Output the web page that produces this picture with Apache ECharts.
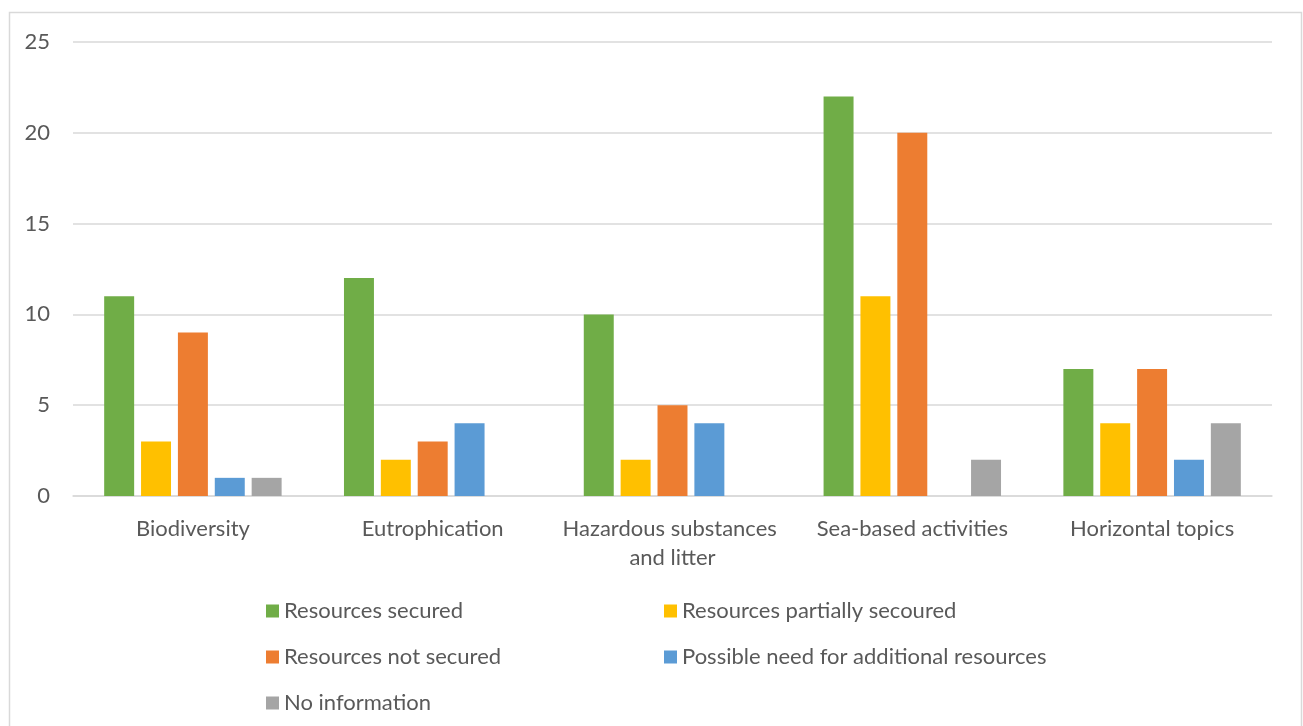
<!DOCTYPE html>
<html>
<head>
<meta charset="utf-8">
<script src="https://cdn.jsdelivr.net/npm/echarts@6/dist/echarts.min.js"></script>
<style>
  html, body { margin: 0; padding: 0; background: #fff; }
  #chart { width: 1303px; height: 726px; }
</style>
</head>
<body>
<div id="chart"></div>
<script>
// Project counts per topic, grouped by resourcing status
const categories = ['Biodiversity', 'Eutrophication', 'Hazardous substances and litter', 'Sea-based activities', 'Horizontal topics'];
const secured = [11, 12, 10, 22, 7];
const partiallySecured = [3, 2, 2, 11, 4];
const notSecured = [9, 3, 5, 20, 7];
const possibleNeed = [1, 4, 4, 0, 2];
const noInformation = [1, 0, 0, 2, 4];
const yTicks = [0, 5, 10, 15, 20, 25];

const seriesNames = ['Resources secured', 'Resources partially secoured', 'Resources not secured', 'Possible need for additional resources', 'No information'];
const seriesData = [secured, partiallySecured, notSecured, possibleNeed, noInformation];
const colors = ['#70AD47', '#FFC000', '#ED7D31', '#5B9BD5', '#A5A5A5'];

const FONT = 'Lato, "Open Sans", sans-serif';
const TEXT = '#595959';
const SIZE = 22;

const chart = echarts.init(document.getElementById('chart'), null, { renderer: 'canvas' });

const legendText = { color: TEXT, fontFamily: FONT, fontSize: SIZE, lineHeight: 22 };

chart.setOption({
  animation: false,
  color: colors,
  textStyle: { fontFamily: FONT },
  graphic: [{
    type: 'rect',
    shape: { x: 9.5, y: 12.5, width: 1292, height: 740 },
    style: { fill: 'none', stroke: '#d9d9d9', lineWidth: 1.5 },
    silent: true
  }],
  grid: { left: 73, right: 31, top: 42, bottom: 230, containLabel: false },
  legend: [
    {
      data: [seriesNames[0], seriesNames[2], seriesNames[4]],
      orient: 'vertical', left: 266, top: 600, padding: 0,
      itemWidth: 13, itemHeight: 13, itemGap: 24,
      icon: 'rect', textStyle: legendText, selectedMode: false
    },
    {
      data: [seriesNames[1], seriesNames[3]],
      orient: 'vertical', left: 664, top: 600, padding: 0,
      itemWidth: 13, itemHeight: 13, itemGap: 24,
      icon: 'rect', textStyle: legendText, selectedMode: false
    }
  ],
  xAxis: {
    type: 'category',
    data: categories,
    axisLine: { lineStyle: { color: '#d9d9d9', width: 1.5 } },
    axisTick: { show: false },
    axisLabel: {
      color: TEXT, fontFamily: FONT, fontSize: SIZE, margin: 18,
      lineHeight: 29, width: 225, overflow: 'break', interval: 0
    }
  },
  yAxis: {
    type: 'value',
    min: yTicks[0],
    max: yTicks[yTicks.length - 1],
    interval: yTicks[1] - yTicks[0],
    axisLine: { show: false },
    axisTick: { show: false },
    axisLabel: { color: TEXT, fontFamily: FONT, fontSize: SIZE, margin: 23 },
    splitLine: { lineStyle: { color: '#d9d9d9', width: 1.5 } }
  },
  series: seriesNames.map((name, i) => ({
    name,
    type: 'bar',
    data: seriesData[i],
    barGap: '23%',
    barCategoryGap: '26%',
    itemStyle: { color: colors[i] }
  }))
});
</script>
</body>
</html>
